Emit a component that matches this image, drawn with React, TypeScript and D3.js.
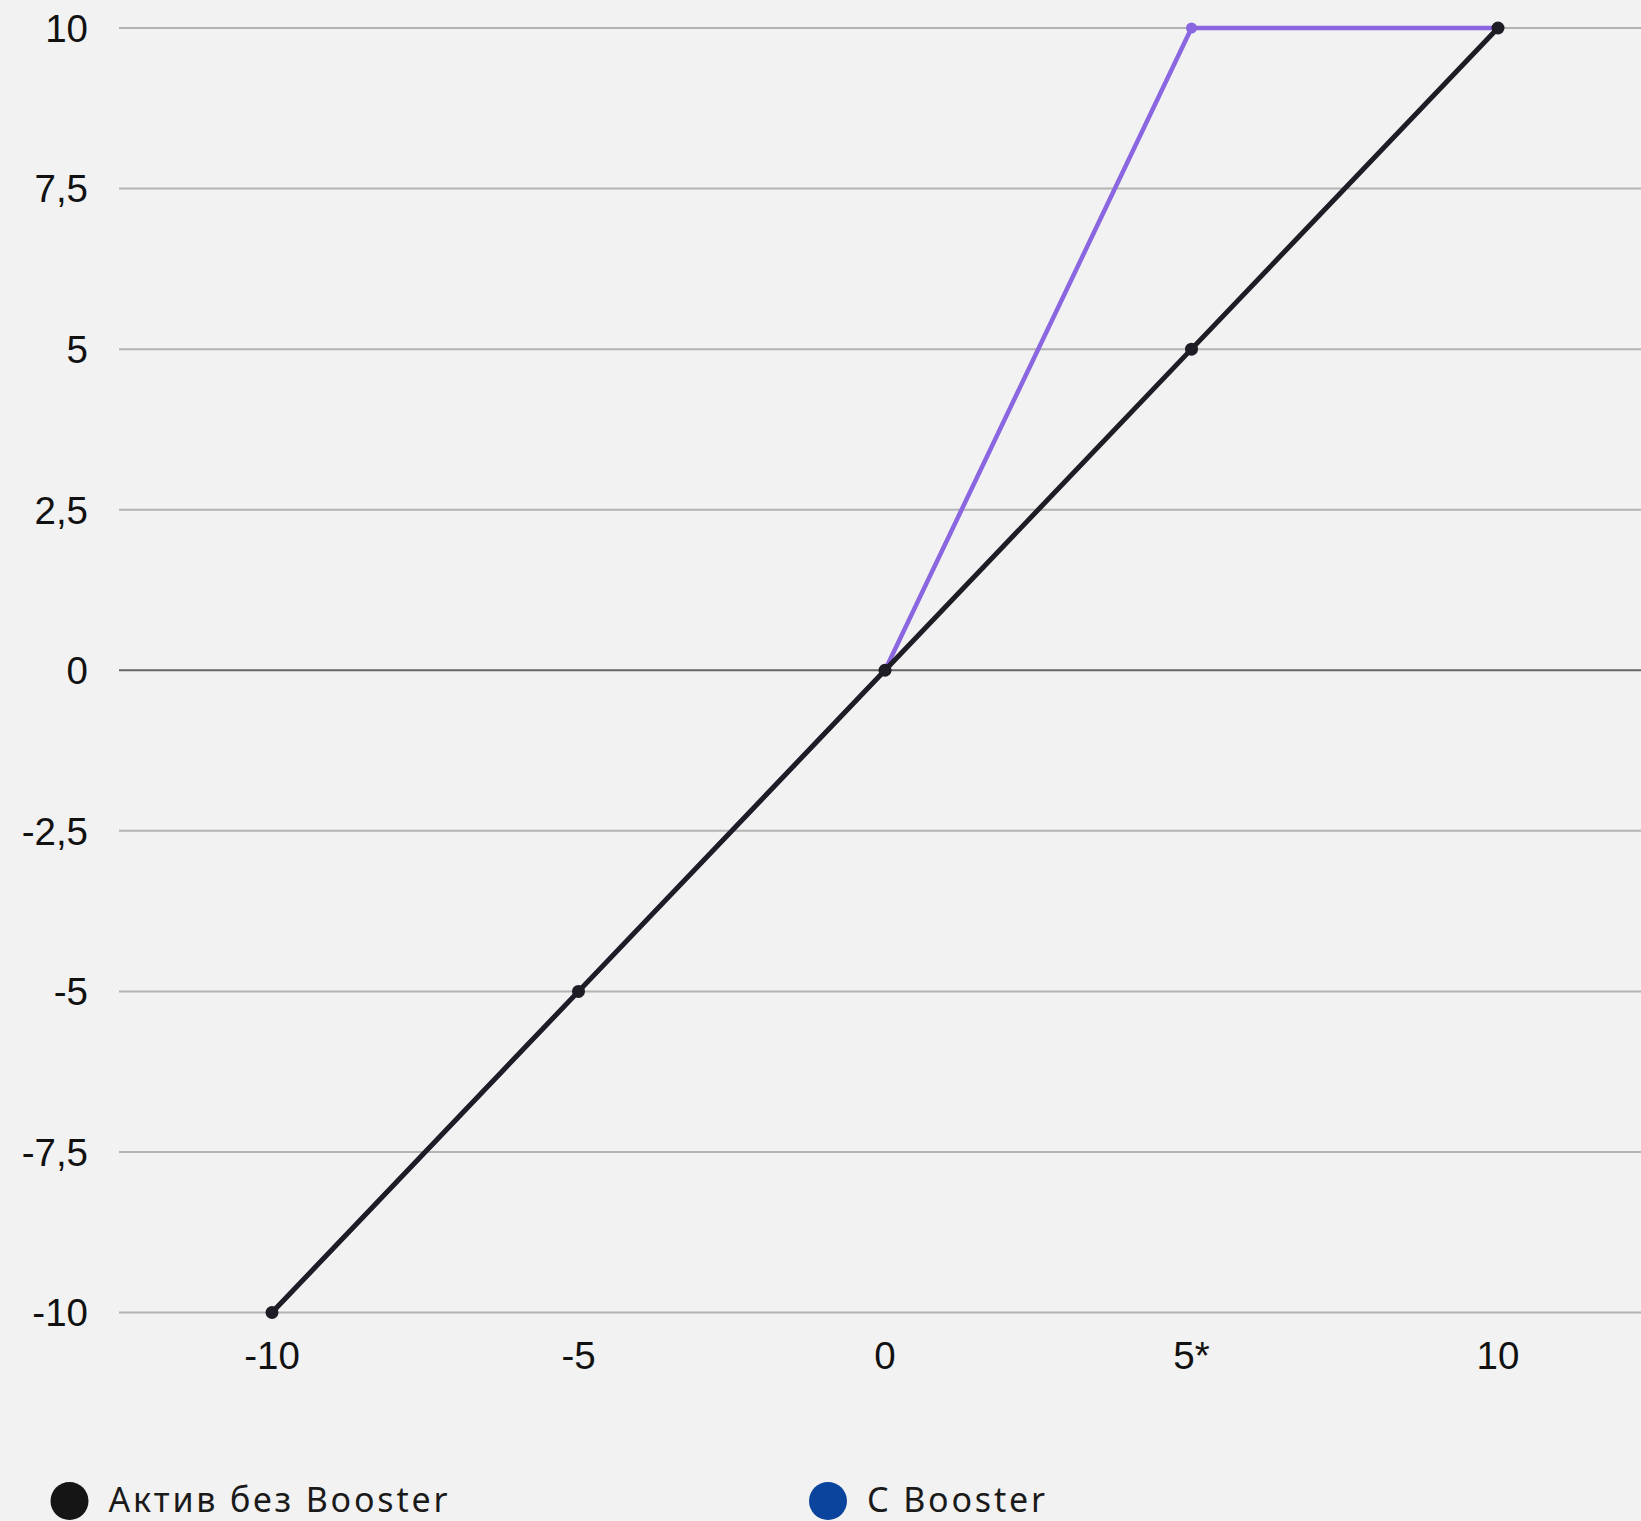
import React from "react";
import * as d3 from "d3";

const xValues = [-10, -5, 0, 5, 10];
const xTickLabels = ["-10", "-5", "0", "5*", "10"];
const baseValues = [-10, -5, 0, 5, 10];
const boosterValues = [-10, -5, 0, 10, 10];
const yTicks = [10, 7.5, 5, 2.5, 0, -2.5, -5, -7.5, -10];
const yTickLabels = ["10", "7,5", "5", "2,5", "0", "-2,5", "-5", "-7,5", "-10"];
const legendItems = [
  { label: "Актив без Booster", color: "#151515" },
  { label: "С Booster", color: "#0b449c" },
];

const W = 1641;
const H = 1521;

export default function App() {
  const x = d3.scaleLinear().domain([-10, 10]).range([272, 1498]);
  const y = d3.scaleLinear().domain([-10, 10]).range([1312.5, 28]);
  const line = d3
    .line<[number, number]>()
    .x((d) => x(d[0]))
    .y((d) => y(d[1]));
  const basePts: [number, number][] = xValues.map((v, i) => [v, baseValues[i]]);
  const boostPts: [number, number][] = xValues.map((v, i) => [v, boosterValues[i]]);
  const legendX = [69.5, 828];

  return (
    <div style={{ position: "absolute", left: 0, top: 0, width: W, height: H }}>
      <svg width={W} height={H} style={{ display: "block" }}>
        <rect x={0} y={0} width={W} height={H} fill="#f2f2f2" />
        {yTicks.map((t, i) => (
          <g key={t}>
            <line
              x1={119}
              x2={W}
              y1={y(t)}
              y2={y(t)}
              stroke={t === 0 ? "#666666" : "#b3b3b3"}
              strokeWidth={2}
            />
            <text
              x={88}
              y={y(t)}
              dy="0.36em"
              textAnchor="end"
              fontFamily="'Liberation Sans', Arial, sans-serif"
              fontSize={38.5}
              fill="#111"
            >
              {yTickLabels[i]}
            </text>
          </g>
        ))}
        {xValues.map((v, i) => (
          <text
            key={v}
            x={x(v)}
            y={1369}
            textAnchor="middle"
            fontFamily="'Liberation Sans', Arial, sans-serif"
            fontSize={38.5}
            fill="#111"
          >
            {xTickLabels[i]}
          </text>
        ))}
        <path d={line(boostPts) || ""} fill="none" stroke="#8a66e0" strokeWidth={4.5} strokeLinejoin="round" />
        {boostPts.map((p, i) => (
          <circle key={"b" + i} cx={x(p[0])} cy={y(p[1])} r={5.5} fill="#8a66e0" />
        ))}
        <path d={line(basePts) || ""} fill="none" stroke="#1e1c24" strokeWidth={5} strokeLinejoin="round" />
        {basePts.map((p, i) => (
          <circle key={"a" + i} cx={x(p[0])} cy={y(p[1])} r={6.5} fill="#1e1c24" />
        ))}
        {legendItems.map((item, i) => (
          <g key={item.label}>
            <circle cx={legendX[i]} cy={1501} r={19} fill={item.color} />
            <text
              x={legendX[i] + 39}
              y={1512}
              fontFamily="'Noto Sans', 'Open Sans', sans-serif"
              fontSize={34}
              letterSpacing={2.8}
              fill="#1a1a1a"
            >
              {item.label}
            </text>
          </g>
        ))}
      </svg>
    </div>
  );
}
